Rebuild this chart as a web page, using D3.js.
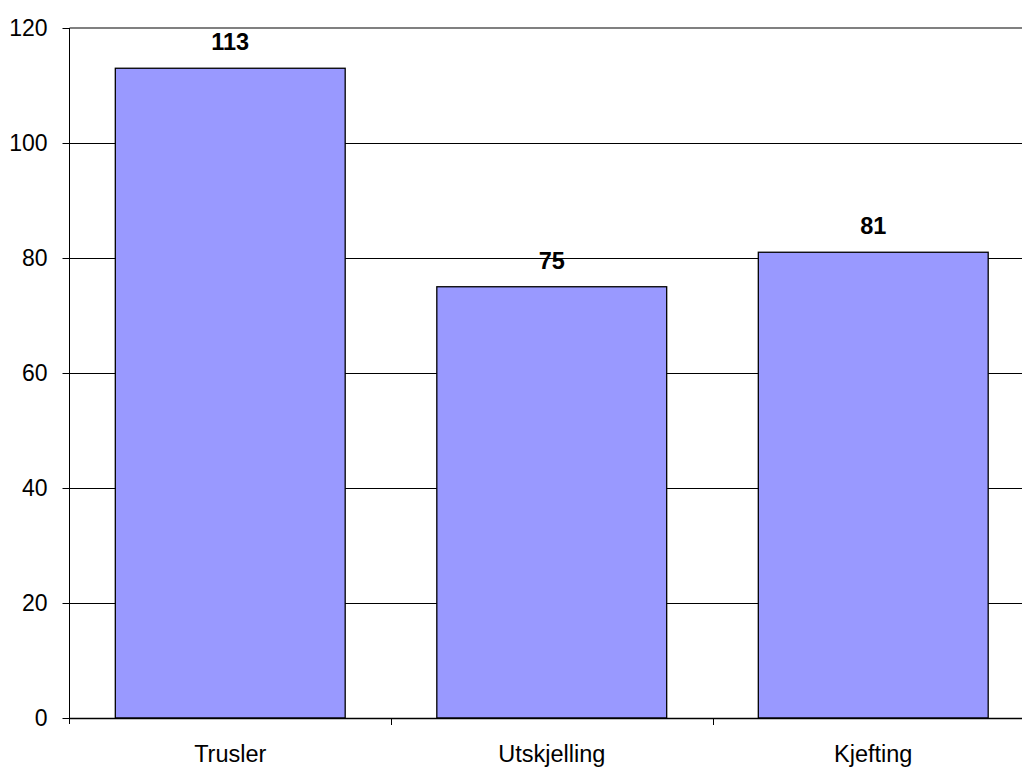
<!DOCTYPE html>
<meta charset="utf-8">
<style>
body { margin: 0; background: #fff; }
text { font-family: "Liberation Sans", Arial, sans-serif; fill: #000; }
.bar { fill: #9999ff; stroke: #000; stroke-width: 1.3px; }
.grid line { stroke: #000; stroke-width: 1px; }
</style>
<svg class="chart" width="1022" height="767"></svg>
<script src="https://cdn.jsdelivr.net/npm/d3@7"></script>
<script>

var categories = ["Trusler", "Utskjelling", "Kjefting"];
var values = [113, 75, 81];
var yTicks = [0, 20, 40, 60, 80, 100, 120];

var svg = d3.select(".chart");

var plotLeft = 69.5, plotRight = 1034, plotTop = 28, plotBottom = 718;

var x = d3.scaleBand()
    .domain(categories)
    .range([plotLeft, plotRight])
    .paddingInner(0.285)
    .paddingOuter(0.1425);

var y = d3.scaleLinear()
    .domain([0, 120])
    .range([plotBottom, plotTop]);

// gridlines
svg.append("g")
    .attr("class", "grid")
  .selectAll("line")
  .data(yTicks.filter(function(d) { return d > 0 && d < 120; }))
  .enter().append("line")
    .attr("x1", plotLeft)
    .attr("x2", plotRight)
    .attr("y1", function(d) { return Math.round(y(d)) + 0.5; })
    .attr("y2", function(d) { return Math.round(y(d)) + 0.5; });

// top border of plot area
svg.append("line")
    .attr("x1", plotLeft).attr("x2", plotRight)
    .attr("y1", y(120)).attr("y2", y(120))
    .attr("stroke", "#808080")
    .attr("stroke-width", 2);

// bars
svg.append("g")
  .selectAll("rect")
  .data(values)
  .enter().append("rect")
    .attr("class", "bar")
    .attr("x", function(d, i) { return x(categories[i]); })
    .attr("width", x.bandwidth())
    .attr("y", function(d) { return y(d); })
    .attr("height", function(d) { return y(0) - y(d); });

// value labels
svg.append("g")
  .selectAll("text")
  .data(values)
  .enter().append("text")
    .attr("x", function(d, i) { return x(categories[i]) + x.bandwidth() / 2; })
    .attr("y", function(d) { return y(d) - 18; })
    .attr("text-anchor", "middle")
    .style("font-size", "23.5px")
    .style("font-weight", "bold")
    .text(function(d) { return d; });

// y axis
var yAxis = svg.append("g");
yAxis.append("line")
    .attr("x1", plotLeft).attr("x2", plotLeft)
    .attr("y1", plotTop).attr("y2", plotBottom + 6)
    .attr("stroke", "#000");
yAxis.selectAll(".tick")
  .data(yTicks)
  .enter().append("line")
    .attr("x1", plotLeft - 7).attr("x2", plotLeft)
    .attr("y1", function(d) { return Math.round(y(d)) + 0.5; })
    .attr("y2", function(d) { return Math.round(y(d)) + 0.5; })
    .attr("stroke", "#000");
yAxis.selectAll("text")
  .data(yTicks)
  .enter().append("text")
    .attr("x", plotLeft - 22)
    .attr("y", function(d) { return y(d) + 8; })
    .attr("text-anchor", "end")
    .style("font-size", "23px")
    .text(function(d) { return d; });

// x axis
var xAxis = svg.append("g");
xAxis.append("line")
    .attr("x1", plotLeft).attr("x2", plotRight)
    .attr("y1", plotBottom + 0.5).attr("y2", plotBottom + 0.5)
    .attr("stroke", "#000")
    .attr("stroke-width", 1.3);
var step = x.step();
xAxis.selectAll(".tick")
  .data(categories.slice(1))
  .enter().append("line")
    .attr("x1", function(d) { return Math.round(x(d) - (step - x.bandwidth()) / 2) + 0.5; })
    .attr("x2", function(d) { return Math.round(x(d) - (step - x.bandwidth()) / 2) + 0.5; })
    .attr("y1", plotBottom)
    .attr("y2", plotBottom + 7)
    .attr("stroke", "#000");
xAxis.selectAll("text")
  .data(categories)
  .enter().append("text")
    .attr("x", function(d) { return x(d) + x.bandwidth() / 2; })
    .attr("y", 762)
    .attr("text-anchor", "middle")
    .style("font-size", "23.5px")
    .text(function(d) { return d; });

</script>
